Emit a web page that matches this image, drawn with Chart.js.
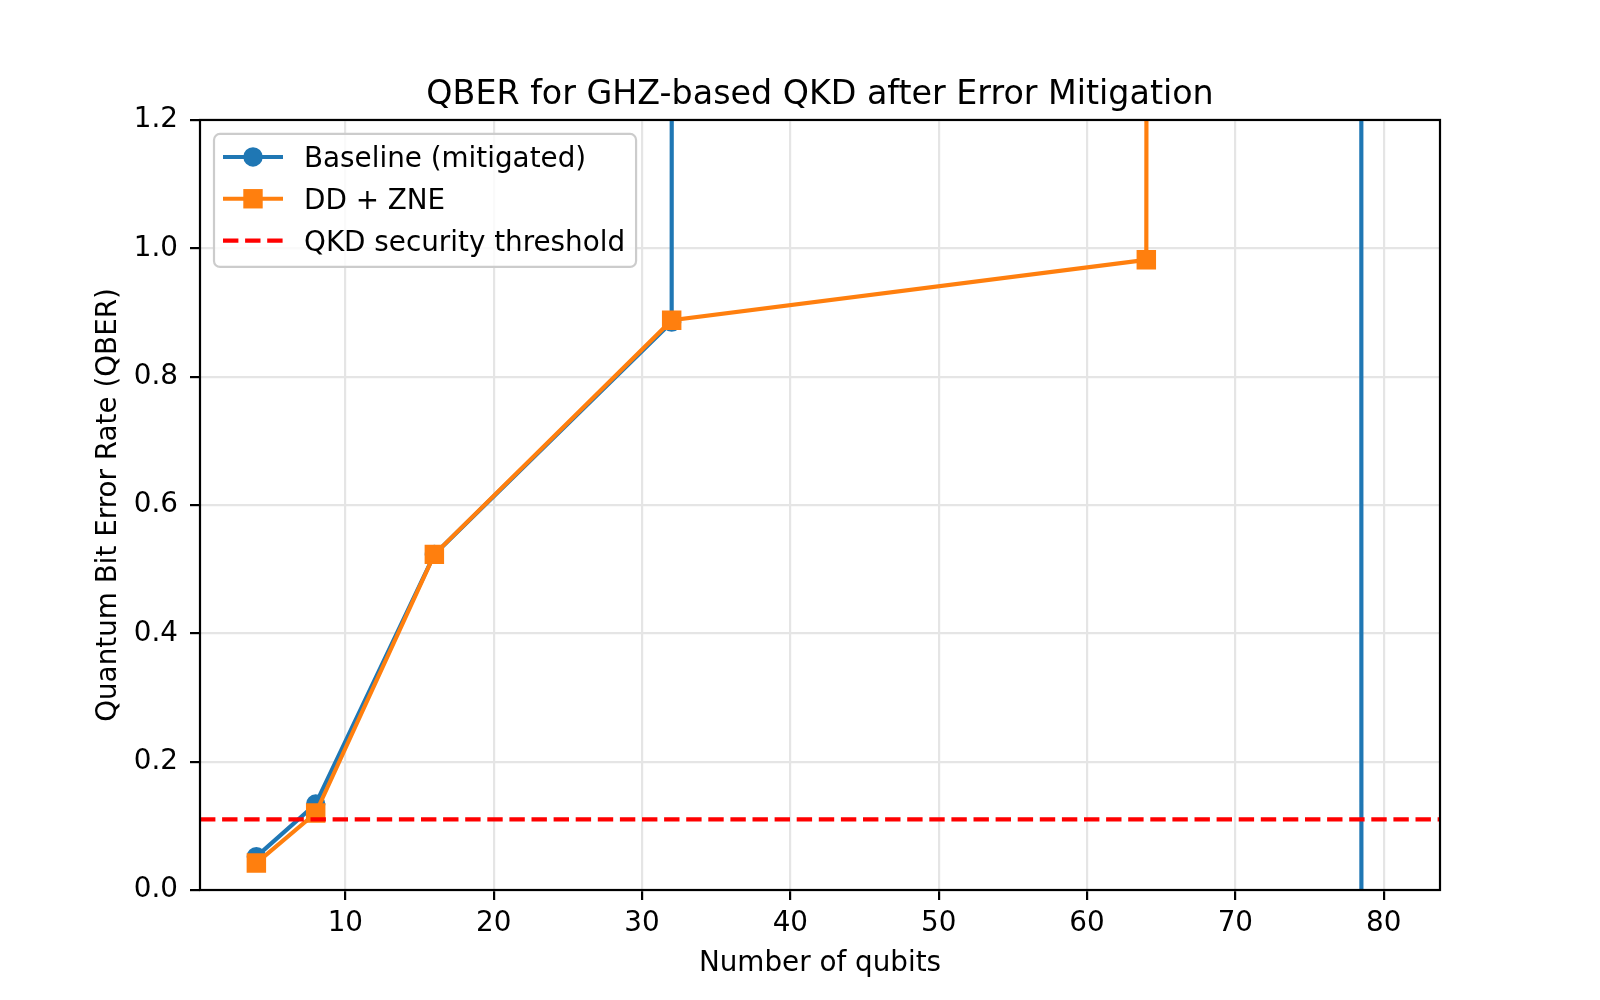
<!DOCTYPE html>
<html><head><meta charset="utf-8">
<script src="https://cdn.jsdelivr.net/npm/chart.js@4.4.1/dist/chart.umd.min.js"></script>
<style>html,body{margin:0;padding:0;background:#fff;} #wrap{width:1600px;height:1000px;position:relative;}</style>
</head><body><div id="wrap"><canvas id="c" width="1600" height="1000"></canvas></div>
<script>
// ---- data ----
const qubits = [4, 8, 16, 32, 64, 80];
const baselineQber = [0.052, 0.134, 0.523, 0.885, 3000, -310];
const ddZneQber = [0.042, 0.120, 0.523, 0.888, 0.982, 500];
const thresholdQber = 0.11;
const xLimits = [0.2, 83.8];
const yLimits = [0, 1.2];
const xTicks = [10, 20, 30, 40, 50, 60, 70, 80];
const yTicks = [0, 0.2, 0.4, 0.6, 0.8, 1.0, 1.2];
const seriesNames = ['Baseline (mitigated)', 'DD + ZNE', 'QKD security threshold'];
const titleText = 'QBER for GHZ-based QKD after Error Mitigation';
const xLabel = 'Number of qubits';
const yLabel = 'Quantum Bit Error Rate (QBER)';

// ---- style ----
const BLUE = '#1f77b4', ORANGE = '#ff7f0e', RED = '#ff0000';
const FONT = 'DejaVu Sans';
const FS = 27.8, TFS = 33.3;
const LW = 4.17, MEW = 2.78;

Chart.defaults.font.family = FONT;
Chart.defaults.color = '#000';

const pts = (ys) => qubits.map((x, i) => ({x: x, y: ys[i]}));

// the y scale maps far off-scale values without the default int16 pixel clamp,
// so segments heading to off-chart values keep their true direction
function unclampPixels(s) {
  s.getPixelForDecimal = function (d) {
    if (this._reversePixels) d = 1 - d;
    return this._startPixel + d * this._length;
  };
}

const frameAndLegend = {
  id: 'frameAndLegend',
  afterDatasetsDraw(chart) {
    const {ctx, chartArea: a} = chart;
    ctx.save();
    ctx.strokeStyle = '#000';
    ctx.lineWidth = 2.2;
    ctx.lineJoin = 'miter';
    ctx.strokeRect(a.left, a.top, a.right - a.left, a.bottom - a.top);
    ctx.restore();
  },
  afterDraw(chart) {
    const {ctx, chartArea: a} = chart;
    ctx.save();
    ctx.font = FS + 'px "' + FONT + '"';
    let maxW = 0;
    seriesNames.forEach(s => { maxW = Math.max(maxW, ctx.measureText(s).width); });
    const L = a.left + 14, T = a.top + 14;
    const W = 90 + maxW + 11, H = 133;
    ctx.beginPath();
    ctx.roundRect(L, T, W, H, 6);
    ctx.fillStyle = 'rgba(255,255,255,0.8)';
    ctx.fill();
    ctx.strokeStyle = '#cccccc';
    ctx.lineWidth = 2.2;
    ctx.stroke();
    const colors = [BLUE, ORANGE, RED];
    for (let i = 0; i < 3; i++) {
      const cy = T + 23 + i * 41.8;
      ctx.strokeStyle = colors[i];
      ctx.lineWidth = LW;
      ctx.setLineDash(i === 2 ? [15.4, 6.7] : []);
      ctx.beginPath();
      ctx.moveTo(L + 9, cy); ctx.lineTo(L + 69, cy);
      ctx.stroke();
      ctx.setLineDash([]);
      ctx.fillStyle = colors[i];
      if (i === 0) { ctx.beginPath(); ctx.arc(L + 39, cy, 9.7, 0, Math.PI * 2); ctx.fill(); }
      if (i === 1) { ctx.fillRect(L + 39 - 9.7, cy - 9.7, 19.4, 19.4); }
      ctx.fillStyle = '#000';
      ctx.textBaseline = 'alphabetic';
      ctx.textAlign = 'left';
      ctx.fillText(seriesNames[i], L + 90, cy + 10.1);
    }
    ctx.restore();
  }
};

new Chart(document.getElementById('c'), {
  type: 'line',
  data: {
    datasets: [
      {
        label: seriesNames[2],
        data: [{x: xLimits[0], y: thresholdQber}, {x: xLimits[1], y: thresholdQber}],
        borderColor: RED, borderWidth: LW, borderDash: [15.4, 6.7],
        pointRadius: 0, order: 0
      },
      {
        label: seriesNames[1],
        data: pts(ddZneQber),
        borderColor: ORANGE, backgroundColor: ORANGE, borderWidth: LW,
        pointStyle: 'rect', pointRadius: 11.8, pointBorderWidth: MEW,
        pointBackgroundColor: ORANGE, pointBorderColor: ORANGE, order: 1
      },
      {
        label: seriesNames[0],
        data: pts(baselineQber),
        borderColor: BLUE, backgroundColor: BLUE, borderWidth: LW,
        pointStyle: 'circle', pointRadius: 8.3, pointBorderWidth: MEW,
        pointBackgroundColor: BLUE, pointBorderColor: BLUE, order: 2
      }
    ]
  },
  options: {
    responsive: false,
    animation: false,
    devicePixelRatio: 1,
    layout: {padding: {left: 0, right: 160, top: 0, bottom: 0}},
    elements: {line: {tension: 0}},
    plugins: {
      legend: {display: false},
      tooltip: {enabled: false},
      title: {
        display: true, text: titleText, fullSize: false,
        font: {size: TFS, weight: 'normal', family: FONT}, color: '#000',
        padding: {top: 75, bottom: 5}
      }
    },
    scales: {
      x: {
        type: 'linear', min: xLimits[0], max: xLimits[1],
        afterFit(s) { s.height = 110; },
        afterBuildTicks(s) { s.ticks = xTicks.map(v => ({value: v})); },
        grid: {color: '#e5e5e5', lineWidth: 2.2, tickColor: '#000', tickWidth: 2.2, tickLength: 10},
        border: {display: false},
        ticks: {font: {size: FS}, color: '#000', padding: 7, maxRotation: 0, autoSkip: false,
                callback: v => String(v)},
        title: {display: true, text: xLabel, font: {size: FS}, color: '#000', padding: {top: 0, bottom: 19.6}}
      },
      y: {
        type: 'linear', min: yLimits[0], max: yLimits[1],
        afterSetDimensions: unclampPixels,
        afterFit(s) { s.width = 200; },
        afterBuildTicks(s) { s.ticks = yTicks.map(v => ({value: v})); },
        grid: {color: '#e5e5e5', lineWidth: 2.2, tickColor: '#000', tickWidth: 2.2, tickLength: 10},
        border: {display: false},
        ticks: {font: {size: FS}, color: '#000', padding: 12, autoSkip: false,
                callback: v => Number(v).toFixed(1)},
        title: {display: true, text: yLabel, font: {size: FS}, color: '#000', padding: {top: 92, bottom: 0}}
      }
    }
  },
  plugins: [frameAndLegend]
});
</script>
</body></html>
